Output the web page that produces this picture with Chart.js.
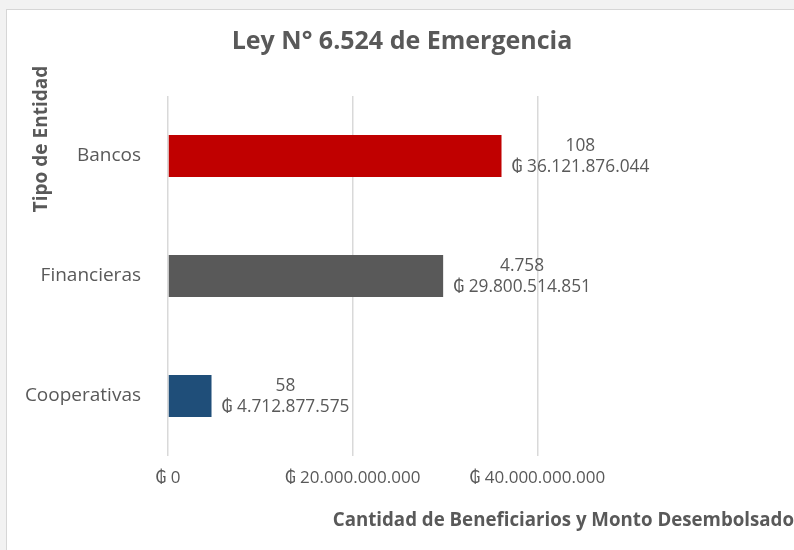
<!DOCTYPE html>
<html>
<head>
<meta charset="utf-8">
<script src="https://cdn.jsdelivr.net/npm/chart.js@4.4.1/dist/chart.umd.min.js"></script>
<style>
  html, body { margin: 0; padding: 0; background: #f2f2f2; }
  #frame { position: absolute; left: 6px; top: 9px; width: 800px; height: 560px; background: #ffffff; border-left: 1px solid #d6d6d6; border-top: 1px solid #d6d6d6; }
  #wrap { position: absolute; left: 0; top: 0; width: 794px; height: 550px; }
</style>
</head>
<body>
<div id="frame"></div>
<div id="wrap"><canvas id="c" width="794" height="550"></canvas></div>
<script>
const categories = ['Bancos', 'Financieras', 'Cooperativas'];
const montos = [36121876044, 29800514851, 4712877575];
const beneficiarios = [108, 4758, 58];
const barColors = ['#C00000', '#595959', '#1F4E79'];
const xTickValues = [0, 20000000000, 40000000000];
const chartTitle = 'Ley N° 6.524 de Emergencia';
const xTitle = 'Cantidad de Beneficiarios y Monto Desembolsado';
const yTitle = 'Tipo de Entidad';

const FONT = "'Open Sans', 'DejaVu Sans', sans-serif";
const TXT = '#595959';

function fmt(n) {
  return String(Math.round(n)).replace(/\B(?=(\d{3})+(?!\d))/g, '.');
}

const labelPlugin = {
  id: 'barLabels',
  afterDatasetsDraw(chart) {
    const ctx = chart.ctx;
    const meta = chart.getDatasetMeta(0);
    ctx.save();
    ctx.font = '17.3px ' + FONT;
    ctx.fillStyle = TXT;
    ctx.textAlign = 'center';
    ctx.textBaseline = 'middle';
    meta.data.forEach((el, i) => {
      const l1 = fmt(beneficiarios[i]);
      const l2 = '₲ ' + fmt(montos[i]);
      const w = Math.max(ctx.measureText(l1).width, ctx.measureText(l2).width);
      const cx = el.x + 10 + w / 2;
      ctx.fillText(l1, cx, el.y - 10);
      ctx.fillText(l2, cx, el.y + 11.5);
    });
    ctx.restore();
  }
};

const yTitlePlugin = {
  id: 'yTitle',
  afterDraw(chart) {
    const ctx = chart.ctx;
    ctx.save();
    ctx.translate(42, 139);
    ctx.rotate(-Math.PI / 2);
    ctx.font = 'bold 19px ' + FONT;
    ctx.fillStyle = TXT;
    ctx.textAlign = 'center';
    ctx.textBaseline = 'middle';
    ctx.fillText(yTitle, 0, 0);
    ctx.restore();
  }
};

new Chart(document.getElementById('c'), {
  type: 'bar',
  data: {
    labels: categories,
    datasets: [{
      data: montos,
      backgroundColor: barColors,
      borderWidth: 0,
      barPercentage: 0.35,
      categoryPercentage: 1
    }]
  },
  options: {
    indexAxis: 'y',
    responsive: false,
    animation: false,
    layout: { padding: { left: 10, right: 0, top: 0, bottom: 0 } },
    plugins: {
      legend: { display: false },
      tooltip: { enabled: false },
      title: {
        display: true,
        text: chartTitle,
        color: TXT,
        font: { family: FONT, size: 25, weight: 'bold', lineHeight: 1.2 },
        padding: { top: 27, bottom: 39 }
      }
    },
    scales: {
      x: {
        min: 0,
        max: 67800000000,
        border: { display: false },
        grid: { color: '#d9d9d9', lineWidth: 1.5, drawTicks: false },
        ticks: {
          stepSize: 20000000000,
          autoSkip: false,
          color: TXT,
          padding: 12,
          maxRotation: 0,
          font: { family: FONT, size: 17 },
          callback: (v) => '₲ ' + fmt(v)
        },
        afterBuildTicks: (scale) => {
          scale.ticks = xTickValues.map(v => ({ value: v }));
        },
        afterFit: (scale) => { scale.height = 94; },
        title: {
          display: true,
          text: xTitle,
          align: 'end',
          color: TXT,
          font: { family: FONT, size: 18.7, weight: 'bold', lineHeight: 1.2 },
          padding: { top: 0, bottom: 18 }
        }
      },
      y: {
        border: { display: false },
        grid: { display: false, drawTicks: false },
        ticks: {
          color: TXT,
          padding: 27,
          font: { family: FONT, size: 19 }
        },
        afterFit: (scale) => { scale.width = 158; }
      }
    }
  },
  plugins: [labelPlugin, yTitlePlugin]
});
</script>
</body>
</html>
